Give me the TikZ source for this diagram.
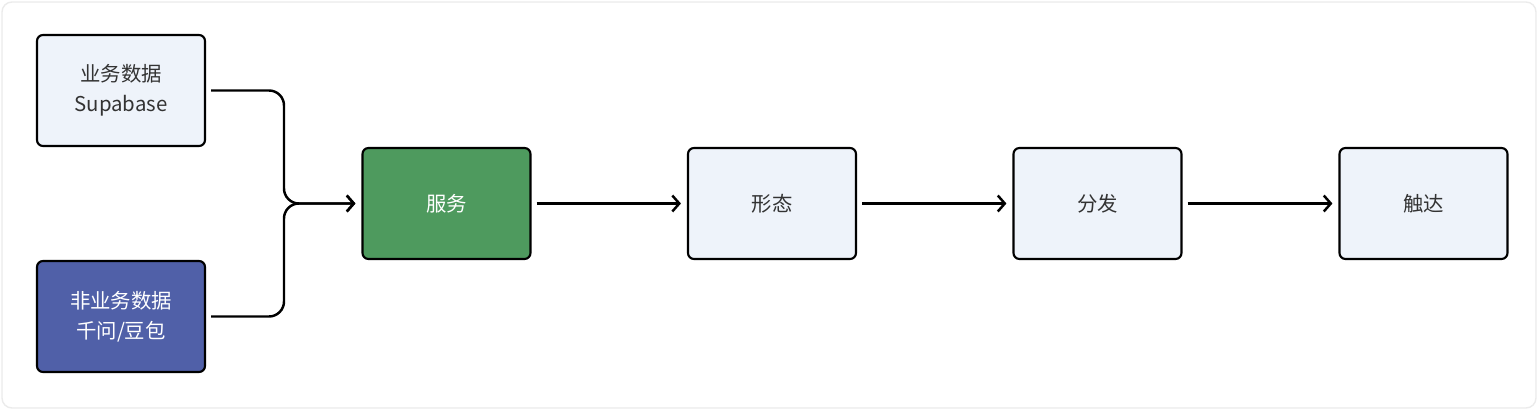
\documentclass[tikz,border=0pt]{standalone}
\usepackage{fontspec}
\newfontfamily\cjk{Noto Sans CJK SC}
\usetikzlibrary{arrows.meta,positioning}
\definecolor{boxfill}{HTML}{EEF3FA}
\definecolor{srvgreen}{HTML}{4E9A5E}
\definecolor{datablue}{HTML}{5060A8}
\begin{document}
\begin{tikzpicture}[
        box/.style={rectangle, rounded corners=0.06cm, draw=black, line width=0.6pt, fill=boxfill,
            minimum width=1.68cm, minimum height=1.11cm, align=center,
            font=\cjk\fontsize{5.8pt}{8.5pt}\selectfont, text=black!80},
        link/.style={line width=0.7pt, -{Straight Barb[length=0.07cm,width=0.16cm]}, shorten >=0.06cm},
        ]

        % Background
        \draw[black!8, fill=white, rounded corners=0.1cm] (0.02,0.02) rectangle (15.36,4.08);
        \useasboundingbox (0,0) rectangle (15.4,4.1);

        % Data sources
        \node[box] (biz) at (1.21,3.195) {业务数据\\Supabase};
        \node[box, fill=datablue, text=white] (nonbiz) at (1.21,0.935) {非业务数据\\千问/豆包};

        % Pipeline
        \node[box, fill=srvgreen, text=white] (srv) at (4.465,2.065) {服务};
        \node[box] (form) at (7.72,2.065) {形态};
        \node[box] (dist) at (10.975,2.065) {分发};
        \node[box] (reach) at (14.235,2.065) {触达};

        % Merge
        \draw[link, rounded corners=0.15cm] ([xshift=0.05cm]biz.east) -| (2.84,2.065) -- (srv.west);
        \draw[link, rounded corners=0.15cm] ([xshift=0.05cm]nonbiz.east) -| (2.84,2.065) -- (srv.west);

        % Chain
        \draw[link] ([xshift=0.05cm]srv.east) -- (form.west);
        \draw[link] ([xshift=0.05cm]form.east) -- (dist.west);
        \draw[link] ([xshift=0.05cm]dist.east) -- (reach.west);

    \end{tikzpicture}
\end{document}
